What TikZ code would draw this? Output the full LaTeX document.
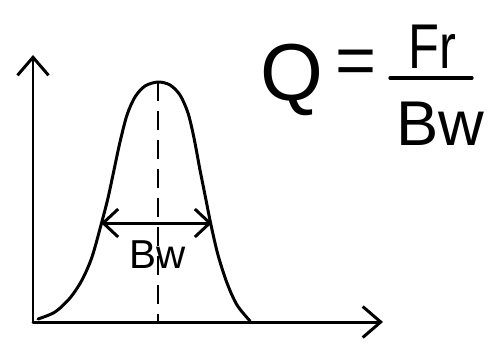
\documentclass[tikz,border=0pt]{standalone}
\usepackage{fontspec}
\setmainfont{Liberation Sans}
\usetikzlibrary{arrows.meta}

\begin{document}
\begin{tikzpicture}[
    x=0.02cm, y=-0.02cm,
    line width=1.7pt, line cap=round, line join=round,
    axis/.style={-{Straight Barb[length=0.36cm, width=0.62cm]}},
    bwarrow/.style={{Straight Barb[length=0.3cm, width=0.56cm]}-{Straight Barb[length=0.3cm, width=0.56cm]}},
    centerline/.style={line width=1.4pt, dash pattern=on 0.38cm off 0.2cm, line cap=butt},
    bigtext/.style={inner sep=0pt, anchor=base, font=\fontsize{46}{50}\selectfont},
    fractext/.style={inner sep=0pt, anchor=base, font=\fontsize{36}{40}\selectfont},
    labeltext/.style={inner sep=0pt, anchor=base, font=\fontsize{23}{26}\selectfont},
]
\useasboundingbox (0,0) rectangle (499,345);

% axes
\coordinate (origin) at (33,322);
\coordinate (ytip) at (33,55);
\coordinate (xtip) at (383,322);
\draw[axis] (origin) -- (ytip);
\draw[axis] (origin) -- (xtip);

% resonance curve
\coordinate (peak) at (158,82);
\coordinate (foot) at (158,322);
\draw plot[smooth, tension=0.5] coordinates {(38,319) (55,312) (70,298) (82,280) (92,257) (101,225) (108,198) (114,170) (120,142) (127,115) (135,97) (145,86) (158,82) (170,85) (180,95) (188,113) (194,138) (200,170) (206,200) (211,225) (218,255) (227,283) (237,305) (250,321)};
\draw[centerline] (peak) -- (foot);

% bandwidth
\coordinate (bwl) at (101,223);
\coordinate (bwr) at (212,223);
\draw[bwarrow] (bwl) -- (bwr);
\node[labeltext] (bwlabel) at (158,268) {Bw};

% Q = Fr / Bw
\node[bigtext] (q) at (292,100) {Q};
\node[bigtext, font=\fontsize{40}{44}\selectfont] (eq) at (356,84) {=};
\node[fractext, xscale=0.8] (num) at (432,68) {Fr};
\node[fractext] (den) at (440,145) {Bw};
\coordinate (barl) at (390,78);
\coordinate (barr) at (472,78);
\draw[line width=1.9pt] (barl) -- (barr);
\end{tikzpicture}
\end{document}
